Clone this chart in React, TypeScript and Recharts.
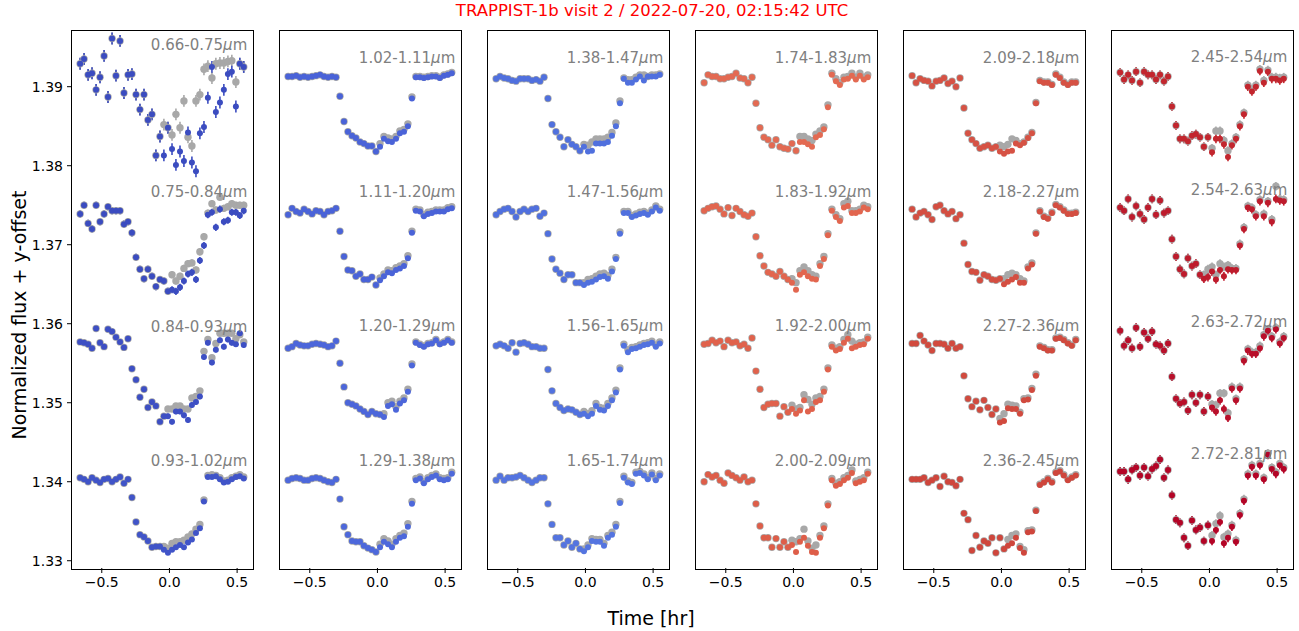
import React from 'react';
import { ScatterChart, Scatter, XAxis, YAxis, ErrorBar, ReferenceDot } from 'recharts';

// time from mid-transit [hr], one value per exposure
const time = [
  -0.660, -0.631, -0.601, -0.572, -0.542, -0.513, -0.483, -0.454, -0.424, -0.395,
  -0.365, -0.336, -0.306, -0.277, -0.247, -0.218, -0.188, -0.159, -0.129, -0.100,
  -0.070, -0.041, -0.011, 0.019, 0.048, 0.078, 0.107, 0.137, 0.166, 0.196,
  0.225, 0.255, 0.284, 0.314, 0.343, 0.373, 0.402, 0.432, 0.461, 0.491,
  0.520, 0.549,
];

// flux residuals in units of 1e-4, relative to each curve's offset level
// dXXX = data (coloured), mXXX = grey points
const d066 = [17,23,3,5,-16,0,27,-25,49,2,46,-20,3, 4,-22,-41,-22,-54,-47,-99,-75,-99,-64,-91,-111,-94,-106,-70,-108,-119,-71,-63, -26,13,-44,-32,-16,4,7,-37,17,13];
const m066 = [17,23,3,5,-16,0,27,-25,49,2,46,-20,3, 4,-22,-41,-22,-54,-47,-99,-75, -60,-64,-73,-47,-64,-30,-76,-87,-30,-22,10, 14,-1,17,18,18,20,21,-6,17,13];
const d075 = [-3,8,-15,-22,8,-13,-3,6,1,1,1,-16,-13, -27,-58,-73,-85,-73,-82,-95,-86,-88,-101,-99,-101,-96,-88,-79,-77,-86,-62,-43, -4,-1,-20,3,-13,-11,-1,-1,-5,1];
const m075 = [-3,8,-15,-22,8,-13,-3,6,1,1,1,-16,-13, -27,-58,-73,-85,-73,-82,-95,-86,-88,-101, -80,-88,-82,-72,-66,-65,-74,-51,-32, -2,10,2,18,4,6,10,8,8,8];
const d084 = [5,4,2,-3,22,4,-1,21,18,11,5,-2,9, -29,-43,-65,-55,-78,-71,-76,-96,-89,-89,-96,-83,-83,-88,-94,-75,-71,-64,-14, 4,-21,-5,7,-1,8,4,2,16,1];
const m084 = [5,4,2,-3,22,4,-1,21,18,11,5,-2,9, -29,-43,-65,-55,-78,-71,-76,-96,-89, -80,-80,-76,-76,-80,-80,-66,-64,-57,-7, 8,-15,3,16,16,16,16,9,14,5];
const d093 = [3,1,-2,3,0,-3,1,2,-2,1,4,-4,1, -22,-53,-69,-72,-77,-85,-84,-84,-88,-92,-88,-85,-82,-85,-79,-75,-67,-61,-27, 4,4,5,1,-3,-2,1,4,5,2];
const m093 = [3,1,-2,3,0,-3,1,2,-2,1,4,-4,1, -22,-53,-69,-72,-77,-85,-84,-84, -84,-86,-80,-78,-78,-76,-72,-68,-62,-56,-25, 6,7,6,3,-1,0,3,5,7,4];

const d102 = [1,1,2,0,1,0,1,2,3,1,0,1,0, -24,-56,-69,-74,-77,-82,-84,-87,-87,-94,-88,-78,-81,-82,-78,-71,-69,-62,-27, 0,0,-1,0,1,1,-1,2,3,5];
const m102 = [1,1,2,0,1,0,1,2,3,1,0,1,0, -24,-56,-69,-74,-77,-82,-84,-87,-87,-94, -84,-75,-77,-78,-75,-68,-66,-59,-25, 1,1,0,1,2,2,0,3,4,6];
const d111 = [-4,4,0,-2,3,0,-3,1,0,-4,0,1,4, -25,-57,-74,-75,-82,-79,-86,-86,-83,-93,-87,-82,-77,-78,-74,-72,-69,-59,-27, 1,0,-6,-3,-2,0,0,0,3,4];
const m111 = [-4,4,0,-2,3,0,-3,1,0,-4,0,1,4, -25,-57,-74,-75,-82,-79,-86,-86,-83,-93, -84,-79,-74,-75,-71,-69,-66,-56,-25, 3,2,-4,-1,0,2,2,2,5,6];
const d120 = [-3,-1,3,1,0,0,2,3,2,1,-1,0,6, -22,-52,-72,-74,-76,-80,-83,-87,-83,-86,-87,-90,-76,-74,-81,-73,-69,-58,-25, 4,1,-1,2,3,7,2,4,7,4];
const m120 = [-3,-1,3,1,0,0,2,3,2,1,-1,0,6, -22,-52,-72,-74,-76,-80,-83,-87,-83,-86,-87, -86,-72,-70,-77,-70,-66,-55,-23, 5,2,0,3,4,8,3,5,8,5];
const d129 = [0,2,3,2,0,0,2,3,2,0,-2,-3,1, -24,-59,-69,-77,-78,-78,-83,-86,-88,-91,-85,-78,-81,-85,-78,-73,-71,-59,-30, 0,2,-4,1,4,6,1,0,1,8];
const m129 = [0,2,3,2,0,0,2,3,2,0,-2,-3,1, -24,-59,-69,-77,-78,-78,-83,-86,-88,-91, -81,-74,-77,-81,-74,-70,-67,-55,-27, 2,4,-2,3,6,8,3,2,3,10];

const d138 = [-2,1,-1,-2,-4,-5,-2,-2,-2,-4,-3,-5,0, -27,-60,-69,-76,-88,-79,-85,-88,-93,-88,-94,-93,-84,-84,-84,-82,-74,-62,-33, -2,-7,-7,-3,1,-4,1,1,1,3];
const m138 = [-2,1,-1,-2,-4,-5,-2,-2,-2,-4,-3,-5,0, -27,-60,-69,-76,-88,-79,-85,-88,-93, -85,-86,-82,-78,-78,-78,-76,-70,-58,-30, -1,-3,-3,0,3,3,1,3,3,4];
const d147 = [-4,0,3,4,0,-7,0,3,0,3,4,-6,-2, -28,-60,-73,-78,-86,-80,-80,-90,-90,-93,-90,-89,-86,-83,-82,-85,-76,-60,-28, -2,-2,-7,-5,-3,-2,-4,0,5,1];
const m147 = [-4,0,3,4,0,-7,0,3,0,3,4,-6,-2, -28,-60,-73,-78,-86,-80,-80,-90,-90, -90,-86,-85,-82,-79,-78,-81,-73,-58,-26, 0,0,-5,-3,-1,0,-2,2,7,3];
const d156 = [0,2,0,-3,4,-8,3,4,2,-1,-1,-3,-3, -30,-57,-73,-78,-82,-80,-81,-84,-87,-86,-89,-86,-76,-81,-82,-76,-69,-59,-30, 0,-8,-4,-3,-1,1,2,4,-1,3];
const m156 = [0,2,0,-3,4,-8,3,4,2,-1,-1,-3,-3, -30,-57,-73,-78,-82,-80,-81,-84,-87, -83,-86,-82,-73,-78,-79,-73,-66,-56,-28, 2,-5,-2,-1,1,3,4,6,1,5];
const d165 = [0,5,0,3,3,4,6,3,0,-3,0,3,3, -30,-56,-73,-73,-82,-77,-85,-80,-87,-90,-85,-77,-78,-78,-83,-73,-69,-59,-29, 3,-3,-5,8,9,6,1,7,0,6];
const m165 = [0,5,0,3,3,4,6,3,0,-3,0,3,3, -30,-56,-73,-73,-82,-77,-85,-80,-87, -87,-82,-74,-75,-75,-80,-70,-66,-56,-27, 5,-1,-3,10,11,8,3,9,2,8];

const d174 = [-7,3,1,1,-2,-2,0,1,5,-1,-2,-7,0, -33,-64,-76,-79,-86,-79,-88,-90,-91,-84,-93,-82,-82,-85,-88,-76,-73,-66,-38, 3,-5,-10,-3,-2,2,-3,2,-3,0];
const m174 = [-7,3,1,1,-2,-2,0,1,5,-1,-2,-7,0, -33,-64,-76,-79,-86,-79,-88,-90,-91,-84,-93, -75,-75,-78,-80,-72,-68,-63,-35, 5,-2,-7,0,1,5,0,5,0,3];
const d183 = [1,4,6,7,3,-3,5,-5,4,0,-4,-6,-2, -32,-56,-69,-77,-79,-82,-76,-82,-86,-90,-99,-80,-77,-82,-85,-86,-69,-60,-30, 1,-7,-12,5,7,-2,-2,0,5,3];
const m183 = [1,4,6,7,3,-3,5,-5,4,0,-4,-6,-2, -32,-56,-69,-77,-79,-82,-76,-82,-86, -85,-90,-75,-70,-75,-80,-82,-66,-57,-28, 3,-4,-9,10,13,1,1,3,8,6];
const d192 = [2,3,7,4,6,-1,7,4,5,0,2,-3,10, -32,-55,-78,-74,-73,-73,-89,-77,-84,-80,-86,-82,-69,-83,-80,-71,-69,-58,-30, -1,-6,-4,4,9,-3,-1,1,2,9];
const m192 = [2,3,7,4,6,-1,7,4,5,0,2,-3,10, -32,-55,-78,-74,-73,-73,-89,-77,-84, -75,-80,-78,-62,-68,-74,-66,-64,-55,-28, 1,-3,-1,8,14,6,2,4,5,11];
const d200 = [-2,7,4,6,0,-4,9,6,3,0,4,-2,0, -30,-58,-73,-73,-85,-74,-85,-78,-85,-82,-91,-78,-73,-83,-91,-92,-73,-61,-32, 0,-7,-5,0,3,9,-4,-2,0,8];
const m200 = [-2,7,4,6,0,-4,9,6,3,0,4,-2,0, -30,-58,-73,-73,-85,-74,-85,-78,-85, -76,-78,-74,-62,-77,-86,-82,-70,-58,-30, 2,-4,-2,3,6,13,-1,1,3,10];

const d209 = [2,-7,-2,-4,-5,-11,-5,-4,-1,-8,-5,-12,-1, -39,-71,-79,-84,-90,-88,-86,-90,-88,-94,-97,-94,-93,-84,-86,-83,-77,-71,-33, -5,-7,-7,-10,3,-1,-7,-10,-7,-7];
const m209 = [2,-7,-2,-4,-5,-11,-5,-4,-1,-8,-5,-12,-1, -39,-71,-79,-84,-90,-88,-86,-90,-88, -86,-88,-85,-78,-80,-84,-82,-76,-70,-32, -4,-6,-6,-9,4,0,-6,-9,-6,-6];
const d218 = [3,-7,-2,0,-4,-10,6,8,1,-3,0,-9,-4, -40,-67,-76,-77,-87,-80,-82,-86,-87,-85,-92,-89,-86,-83,-90,-90,-72,-67,-28, 0,-7,-9,-2,8,5,1,-3,-3,-2];
const m218 = [3,-7,-2,0,-4,-10,6,8,1,-3,0,-9,-4, -40,-67,-76,-77,-87,-80,-82,-86,-87,-85, -85,-80,-78,-80,-85,-88,-70,-65,-27, 1,-6,-8,-1,9,6,2,-2,-2,-1];
const d227 = [3,3,13,6,1,-6,3,3,2,-3,3,-3,-1, -38,-67,-77,-70,-81,-69,-78,-87,-80,-97,-95,-79,-80,-80,-86,-69,-68,-56,-38, -1,-3,-6,-6,9,10,7,3,0,7];
const m227 = [3,3,13,6,1,-6,3,3,2,-3,3,-3,-1, -38,-67,-77,-70,-81,-69,-78,-87,-80, -92,-86,-74,-75,-76,-84,-67,-66,-54,-36, 0,-2,-5,-5,10,11,8,4,1,8];
const d236 = [1,1,1,3,-3,0,3,-8,5,-2,-3,-7,1, -42,-50,-89,-70,-85,-77,-80,-73,-92,-73,-87,-83,-80,-73,-86,-92,-66,-65,-39, -6,-3,1,-3,9,11,6,0,3,6];
const m236 = [1,1,1,3,-3,0,3,-8,5,-2,-3,-7,1, -42,-50,-89,-70,-85,-77,-80,-73,-92,-73,-87, -75,-70,-68,-84,-88,-64,-63,-38, -5,-2,2,-2,10,12,7,1,4,7];

const d245 = [6,-3,3,-4,7,-7,7,3,3,-3,3,-5,1, -37,-61,-78,-78,-81,-74,-72,-76,-88,-76,-95,-78,-78,-85,-101,-86,-78,-62,-47, -12,-18,-12,8,-7,7,-2,-2,-4,-2];
const m245 = [6,-3,3,-4,7,-7,7,3,3,-3,3,-5,1, -37,-61,-78,-78,-81,-74,-72,-76,-88,-76, -90,-68,-68,-80,-93,-84,-76,-60,-45, -10,-15,-10,10,-4,9,0,0,-1,0];
const d254 = [5,1,16,-7,7,-3,-10,5,16,-4,14,-2,1, -35,-57,-73,-79,-59,-69,-66,-80,-85,-83,-76,-86,-74,-82,-73,-74,-74,-43,-22, 5,3,-6,13,-6,11,-13,16,14,13];
const m254 = [5,1,16,-7,7,-3,-10,5,16,-4,14,-2,1, -35,-57,-73,-79,-59,-69,-66,-80, -80,-73,-70,-80,-66,-70,-68,-72,-72,-41,-20, 7,5,-4,15,-3,13,-10,32,16,15];
const d263 = [19,0,7,-3,23,-1,17,9,18,2,0,-6,3, -39,-67,-73,-71,-82,-62,-72,-62,-83,-64,-78,-83,-69,-80,-91,-54,-69,-54,-19, -6,-10,-10,-3,12,19,10,21,3,10];
const m263 = [19,0,7,-3,23,-1,17,9,18,2,0,-6,3, -39,-67,-73,-71,-82,-62,-72,-62,-83,-64, -74,-75,-60,-60,-85,-52,-67,-52,-17, -4,-8,-8,0,14,21,12,23,5,12];
const d272 = [11,11,1,13,16,6,16,5,14,18,26,3,13, -19,-50,-54,-73,-83,-51,-63,-60,-77,-57,-77,-63,-53,-80,-73,-59,-78,-44,-26, 6,17,6,19,1,32,14,8,19,14];
const m272 = [11,11,1,13,16,6,16,5,14,18,26,3,13, -19,-50,-54,-73,-83,-51,-63,-60,-77,-57, -70,-55,-45,-72,-68,-57,-76,-42,-24, 8,19,8,21,3,34,16,10,21,16];

// wavelength bins, one row per panel (top to bottom)
const bins = [
  ['0.66-0.75', '0.75-0.84', '0.84-0.93', '0.93-1.02'],
  ['1.02-1.11', '1.11-1.20', '1.20-1.29', '1.29-1.38'],
  ['1.38-1.47', '1.47-1.56', '1.56-1.65', '1.65-1.74'],
  ['1.74-1.83', '1.83-1.92', '1.92-2.00', '2.00-2.09'],
  ['2.09-2.18', '2.18-2.27', '2.27-2.36', '2.36-2.45'],
  ['2.45-2.54', '2.54-2.63', '2.63-2.72', '2.72-2.81'],
];
const dataSets = [
  [d066, d075, d084, d093], [d102, d111, d120, d129], [d138, d147, d156, d165],
  [d174, d183, d192, d200], [d209, d218, d227, d236], [d245, d254, d263, d272],
];
const greySets = [
  [m066, m075, m084, m093], [m102, m111, m120, m129], [m138, m147, m156, m165],
  [m174, m183, m192, m200], [m209, m218, m227, m236], [m245, m254, m263, m272],
];
// y-offset level of each curve
const offsets = [1.3912, 1.3742, 1.3572, 1.3402];
// error bar half-height, units of 1e-4
const errors = [
  [7.5, 4.5, 3.5, 2.5], [2, 2, 2, 2], [2, 2, 2, 2],
  [2, 2, 2, 2], [2.5, 2.5, 2.5, 2.5], [5.5, 5.5, 5.5, 5.5],
];
const colors = [
  ['#3b4cc0', '#3b4cc0', '#3d4fc4', '#4054c8'],
  ['#4a63d8', '#4a63d8', '#4c66da', '#4d68db'],
  ['#5070de', '#5070de', '#5272df', '#5474e0'],
  ['#e36a52', '#e2664f', '#e0624c', '#de5e49'],
  ['#d65244', '#d44e41', '#d14a3e', '#cf463c'],
  ['#c3262e', '#be1b2c', '#b90f2a', '#b40426'],
];
const yTicks = [1.33, 1.34, 1.35, 1.36, 1.37, 1.38, 1.39];

// layout
const FONT = '"DejaVu Sans", "Liberation Sans", sans-serif';
const GREY = '#a8a8a8';
const panelLeft = [72, 280, 488, 696, 904, 1112];
const PW = 180;
const PH = 537;
const PTOP = 31;
const X_DOMAIN: [number, number] = [-0.72, 0.61];
const Y_DOMAIN: [number, number] = [1.32908, 1.39705];
const labelY = [
  [1.39528, 1.37667, 1.35958, 1.34262],
  [1.39363, 1.37667, 1.3597, 1.34262],
  [1.39363, 1.37667, 1.3597, 1.34262],
  [1.39363, 1.37667, 1.3597, 1.34262],
  [1.39363, 1.37667, 1.3597, 1.34262],
  [1.39375, 1.37692, 1.36022, 1.34351],
];

const rows = (dev: number[], base: number, err: number) =>
  time.map((t, i) => ({ t, y: base + dev[i] * 1e-4, e: err * 1e-4 }));

const fmtX = (v: number) => (v < 0 ? '\u2212' + Math.abs(v).toFixed(1) : v.toFixed(1));

const dot = (r: number, fill: string) => (p: any) =>
  p.cx == null ? <g /> : <circle cx={p.cx} cy={p.cy} r={r} fill={fill} />;

function Panel({ idx }: { idx: number }) {
  const first = idx === 0;
  const yw = first ? 60 : 0;
  return (
    <div style={{ position: 'absolute', left: panelLeft[idx] - yw, top: PTOP }}>
      <ScatterChart width={PW + yw} height={PH + 40} margin={{ top: 0, right: 0, bottom: 0, left: 0 }}>
        <XAxis
          type="number"
          dataKey="t"
          domain={X_DOMAIN}
          ticks={[-0.5, 0, 0.5]}
          allowDataOverflow
          tickFormatter={fmtX}
          axisLine={false}
          tickSize={5}
          tickMargin={4}
          height={40}
          tick={{ fill: '#000', fontSize: 14, fontFamily: FONT }}
          tickLine={{ stroke: '#000', strokeWidth: 1 }}
        />
        <YAxis
          type="number"
          dataKey="y"
          domain={Y_DOMAIN}
          ticks={yTicks}
          allowDataOverflow
          hide={!first}
          width={yw}
          axisLine={false}
          tickSize={5}
          tickMargin={4}
          tickFormatter={(v: number) => v.toFixed(2)}
          tick={{ fill: '#000', fontSize: 14, fontFamily: FONT }}
          tickLine={{ stroke: '#000', strokeWidth: 1 }}
        />
        {offsets.map((base, k) => (
          <Scatter
            key={'g' + k}
            data={rows(greySets[idx][k], base, errors[idx][k])}
            fill={GREY}
            shape={dot(3.7, GREY)}
            isAnimationActive={false}
          >
            <ErrorBar dataKey="e" direction="y" width={0} stroke={GREY} strokeWidth={1.6} />
          </Scatter>
        ))}
        {offsets.map((base, k) => (
          <Scatter
            key={'d' + k}
            data={rows(dataSets[idx][k], base, errors[idx][k])}
            fill={colors[idx][k]}
            shape={dot(3.0, colors[idx][k])}
            isAnimationActive={false}
          >
            <ErrorBar dataKey="e" direction="y" width={0} stroke={colors[idx][k]} strokeWidth={1.6} />
          </Scatter>
        ))}
        {bins[idx].map((b, k) => (
          <ReferenceDot
            key={'l' + k}
            x={0.575}
            y={labelY[idx][k]}
            r={0}
            shape={(p: any) => (
              <text
                x={p.cx}
                y={p.cy}
                textAnchor="end"
                dominantBaseline="central"
                fill="#808080"
                fontSize={15}
                fontFamily={FONT}
              >
                {b}
                <tspan fontStyle="italic">μ</tspan>m
              </text>
            )}
          />
        ))}
      </ScatterChart>
      <div
        style={{
          position: 'absolute',
          left: yw - 1,
          top: -1,
          width: PW + 1,
          height: PH + 1,
          border: '1px solid #000',
          pointerEvents: 'none',
        }}
      />
    </div>
  );
}

export default function App() {
  return (
    <div
      style={{
        position: 'absolute',
        left: 0,
        top: 0,
        width: 1299,
        height: 631,
        background: '#fff',
        fontFamily: FONT,
      }}
    >
      <div
        style={{
          position: 'absolute',
          left: 352,
          width: 600,
          top: 1,
          textAlign: 'center',
          color: '#ff0000',
          fontSize: 16.5,
          whiteSpace: 'nowrap',
        }}
      >
        TRAPPIST-1b visit 2 / 2022-07-20, 02:15:42 UTC
      </div>
      {panelLeft.map((_, i) => (
        <Panel key={i} idx={i} />
      ))}
      <div
        style={{
          position: 'absolute',
          left: 451,
          width: 400,
          top: 607,
          textAlign: 'center',
          fontSize: 19,
          whiteSpace: 'nowrap',
        }}
      >
        Time [hr]
      </div>
      <div
        style={{
          position: 'absolute',
          left: 19 - 200,
          top: 315 - 12,
          width: 400,
          height: 24,
          lineHeight: '24px',
          textAlign: 'center',
          fontSize: 19,
          whiteSpace: 'nowrap',
          transform: 'rotate(-90deg)',
        }}
      >
        Normalized flux + y-offset
      </div>
    </div>
  );
}
